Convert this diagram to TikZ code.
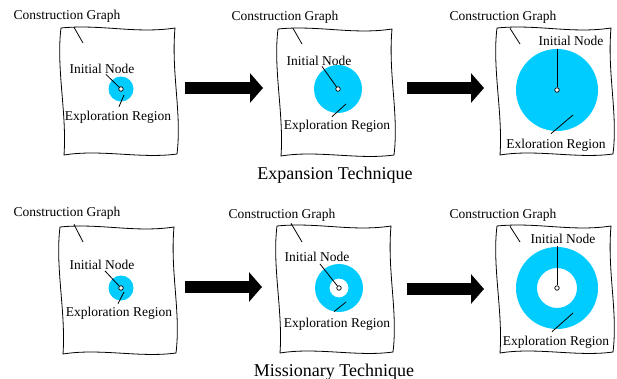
\documentclass[tikz,border=0pt]{standalone}
\usepackage{fontspec}
\setmainfont{Liberation Serif}
\usetikzlibrary{calc,arrows.meta}
\definecolor{regioncyan}{RGB}{0,204,255}
\tikzset{
  sheetline/.style={line width=0.8pt},
  leader/.style={line width=0.8pt},
  region/.style={fill=regioncyan},
  lbl/.style={inner sep=0pt, font=\fontsize{13.5}{15}\selectfont},
  caption/.style={inner sep=0pt, font=\fontsize{18}{20}\selectfont},
  initnode/.style={circle, draw, fill=white, line width=0.7pt, inner sep=0pt, minimum size=4.5pt},
  bigarrow/.style={line width=12pt, -{Triangle[length=13pt,width=29pt]}}
}
\newcommand{\sheet}[1]{%
  \draw[sheetline, shift={#1}]
    (0,0) .. controls (40,-4) and (75,6) .. (114,0)
    .. controls (110,45) and (121,85) .. (116,126)
    .. controls (80,131) and (40,121) .. (3,127)
    .. controls (6,85) and (-5,40) .. (0,0) -- cycle;}
\begin{document}
\begin{tikzpicture}[x=1pt, y=-1pt]
  \useasboundingbox (0,0) rectangle (617,379);

  % expansion technique
  \sheet{(61,28)}
  \fill[region] (121,89) circle (12.5pt);
  \node[initnode] (n1) at (121,89) {};
  \node[lbl] (cg1) at (67,16) {Construction Graph};
  \node[lbl] (in1) at (102,69) {Initial Node};
  \node[lbl] (er1) at (118,117) {Exploration Region};
  \coordinate (g1) at (83,43);
  \coordinate (r1) at (124,95);
  \draw[leader] ($(cg1.south)+(7,5)$) -- (g1);
  \draw[leader] ($(in1.south)+(4,0.5)$) -- (n1);
  \draw[leader] ($(er1.north)+(1,-4)$) -- (r1);

  \sheet{(278,29)}
  \fill[region] (338,89) circle (24pt);
  \node[initnode] (n2) at (338,89) {};
  \node[lbl] (cg2) at (285,17) {Construction Graph};
  \node[lbl] (in2) at (319,61) {Initial Node};
  \node[lbl] (er2) at (337,126) {Exploration Region};
  \coordinate (g2) at (302,44);
  \coordinate (r2) at (346,104);
  \draw[leader] ($(cg2.south)+(8,5)$) -- (g2);
  \draw[leader] ($(in2.south)+(3,0.5)$) -- (n2);
  \draw[leader] ($(er2.north)+(-5,-3)$) -- (r2);

  \sheet{(497,28)}
  \fill[region] (557,90) circle (41pt);
  \node[initnode] (n3) at (557,90) {};
  \node[lbl] (cg3) at (503,17) {Construction Graph};
  \node[lbl] (in3) at (571,41) {Initial Node};
  \node[lbl] (er3) at (556,145) {Exloration Region};
  \coordinate (g3) at (520,44);
  \coordinate (r3) at (573,115);
  \draw[leader] ($(cg3.south)+(7,5)$) -- (g3);
  \draw[leader] ($(in3.south -| n3)+(0,3)$) -- (n3);
  \draw[leader] ($(er3.north)+(-5,-5)$) -- (r3);

  \coordinate (a1s) at (185,88);
  \coordinate (a1e) at (263,88);
  \coordinate (a2s) at (407,88);
  \coordinate (a2e) at (484,88);
  \draw[bigarrow] (a1s) -- (a1e);
  \draw[bigarrow] (a2s) -- (a2e);
  \node[caption] (cap1) at (335,175) {Expansion Technique};

  % missionary technique
  \sheet{(60,227)}
  \fill[region] (121,288) circle (12.5pt);
  \node[initnode] (n4) at (121,288) {};
  \node[lbl] (cg4) at (67,213) {Construction Graph};
  \node[lbl] (in4) at (102,265) {Initial Node};
  \node[lbl] (er4) at (119,313) {Exploration Region};
  \coordinate (g4) at (83,242);
  \coordinate (r4) at (124,292);
  \draw[leader] ($(cg4.south)+(7,5)$) -- (g4);
  \draw[leader] ($(in4.south)+(3,1)$) -- (n4);
  \draw[leader] ($(er4.north)+(-1,-3)$) -- (r4);

  \sheet{(277,226)}
  \fill[region, even odd rule] (339,288) circle (24pt) (339,288) circle (9.5pt);
  \node[initnode] (n5) at (339,288) {};
  \node[lbl] (cg5) at (282,215) {Construction Graph};
  \node[lbl] (in5) at (317,257) {Initial Node};
  \node[lbl] (er5) at (337,324) {Exploration Region};
  \coordinate (g5) at (302,242);
  \coordinate (r5) at (346,302);
  \draw[leader] ($(cg5.south)+(9,2)$) -- (g5);
  \draw[leader] ($(in5.south)+(3,2)$) -- (n5);
  \draw[leader] ($(er5.north)+(-3,-6)$) -- (r5);

  \sheet{(497,226)}
  \fill[region, even odd rule] (557,288) circle (41pt) (557,288) circle (20pt);
  \node[initnode] (n6) at (557,288) {};
  \node[lbl] (cg6) at (503,215) {Construction Graph};
  \node[lbl] (in6) at (563,239) {Initial Node};
  \node[lbl] (er6) at (556,342) {Exploration Region};
  \coordinate (g6) at (520,242);
  \coordinate (r6) at (573,313);
  \draw[leader] ($(cg6.south)+(7,5)$) -- (g6);
  \draw[leader] ($(in6.south -| n6)+(0,2)$) -- (n6);
  \draw[leader] ($(er6.north)+(-4,-4)$) -- (r6);

  \coordinate (a3s) at (185,287);
  \coordinate (a3e) at (262,287);
  \coordinate (a4s) at (407,289);
  \coordinate (a4e) at (484,289);
  \draw[bigarrow] (a3s) -- (a3e);
  \draw[bigarrow] (a4s) -- (a4e);
  \node[caption] (cap2) at (334,372) {Missionary Technique};
\end{tikzpicture}
\end{document}
